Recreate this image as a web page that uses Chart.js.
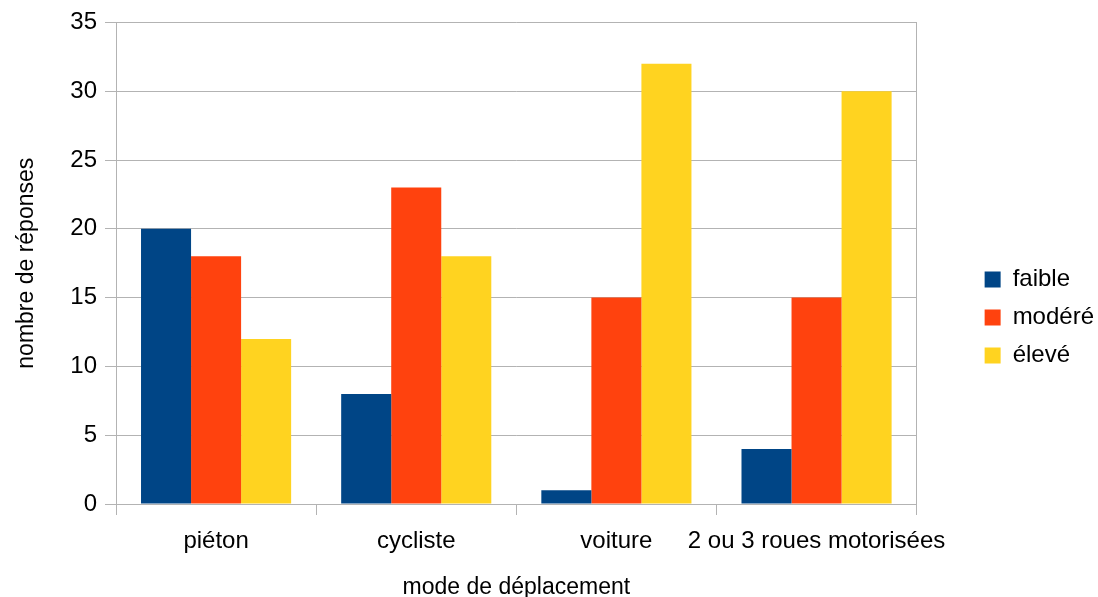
<!DOCTYPE html>
<html>
<head>
<meta charset="utf-8">
<script src="https://cdn.jsdelivr.net/npm/chart.js@4/dist/chart.umd.min.js"></script>
<style>
  html, body { margin: 0; padding: 0; background: #ffffff; }
  #wrap { width: 1098px; height: 597px; position: relative; }
</style>
</head>
<body>
<div id="wrap"><canvas id="c" width="1098" height="597"></canvas></div>
<script>
const categories = ['piéton', 'cycliste', 'voiture', '2 ou 3 roues motorisées'];
const seriesNames = ['faible', 'modéré', 'élevé'];
const faible = [20, 8, 1, 4];
const modere = [18, 23, 15, 15];
const eleve = [12, 18, 32, 30];
const seriesColors = ['#004586', '#ff420e', '#ffd320'];
const xTitle = 'mode de déplacement';
const yTitle = 'nombre de réponses';

const GRID = '#b3b3b3';
const FONT = 'Liberation Sans, Arial, sans-serif';

Chart.defaults.font.family = FONT;
Chart.defaults.color = '#000000';

new Chart(document.getElementById('c'), {
  type: 'bar',
  data: {
    labels: categories,
    datasets: [
      { label: seriesNames[0], data: faible, backgroundColor: seriesColors[0] },
      { label: seriesNames[1], data: modere, backgroundColor: seriesColors[1] },
      { label: seriesNames[2], data: eleve, backgroundColor: seriesColors[2] }
    ]
  },
  options: {
    responsive: false,
    animation: false,
    devicePixelRatio: 1,
    categoryPercentage: 0.75,
    barPercentage: 1.0,
    layout: { padding: { top: 22, left: 0, right: -6, bottom: -16 } },
    plugins: {
      tooltip: { enabled: false },
      legend: {
        position: 'right',
        align: 'center',
        labels: {
          boxWidth: 16,
          boxHeight: 16,
          padding: 14,
          font: { size: 24, family: FONT },
          color: '#000000'
        }
      }
    },
    scales: {
      x: {
        offset: true,
        grid: {
          offset: true,
          drawOnChartArea: false,
          drawTicks: true,
          tickLength: 11,
          tickColor: GRID,
          color: GRID
        },
        border: { display: true, color: GRID, width: 1 },
        ticks: {
          font: { size: 24, family: FONT },
          color: '#000000',
          padding: 12,
          maxRotation: 0,
          autoSkip: false
        },
        title: {
          display: true,
          text: xTitle,
          font: { size: 23, family: FONT, lineHeight: 1.0 },
          color: '#000000',
          padding: { top: 0, bottom: 14 }
        },
        afterFit: (s) => { s.height = 109; }
      },
      y: {
        min: 0,
        max: 35,
        ticks: {
          stepSize: 5,
          font: { size: 24, family: FONT },
          color: '#000000',
          padding: 8
        },
        grid: {
          color: GRID,
          tickColor: GRID,
          tickLength: 11,
          drawTicks: true
        },
        border: { display: true, color: GRID, width: 1 },
        title: {
          display: true,
          text: yTitle,
          font: { size: 23, family: FONT },
          color: '#000000',
          padding: { top: 13, bottom: 0 }
        },
        afterFit: (s) => { s.width = 116; }
      },
      y2: {
        type: 'linear',
        position: 'right',
        display: true,
        min: 0,
        max: 35,
        grid: { drawOnChartArea: false, drawTicks: false },
        border: { display: true, color: GRID, width: 1 },
        ticks: { display: false },
        afterFit: (s) => { s.width = 54; }
      }
    }
  }
});
</script>
</body>
</html>
